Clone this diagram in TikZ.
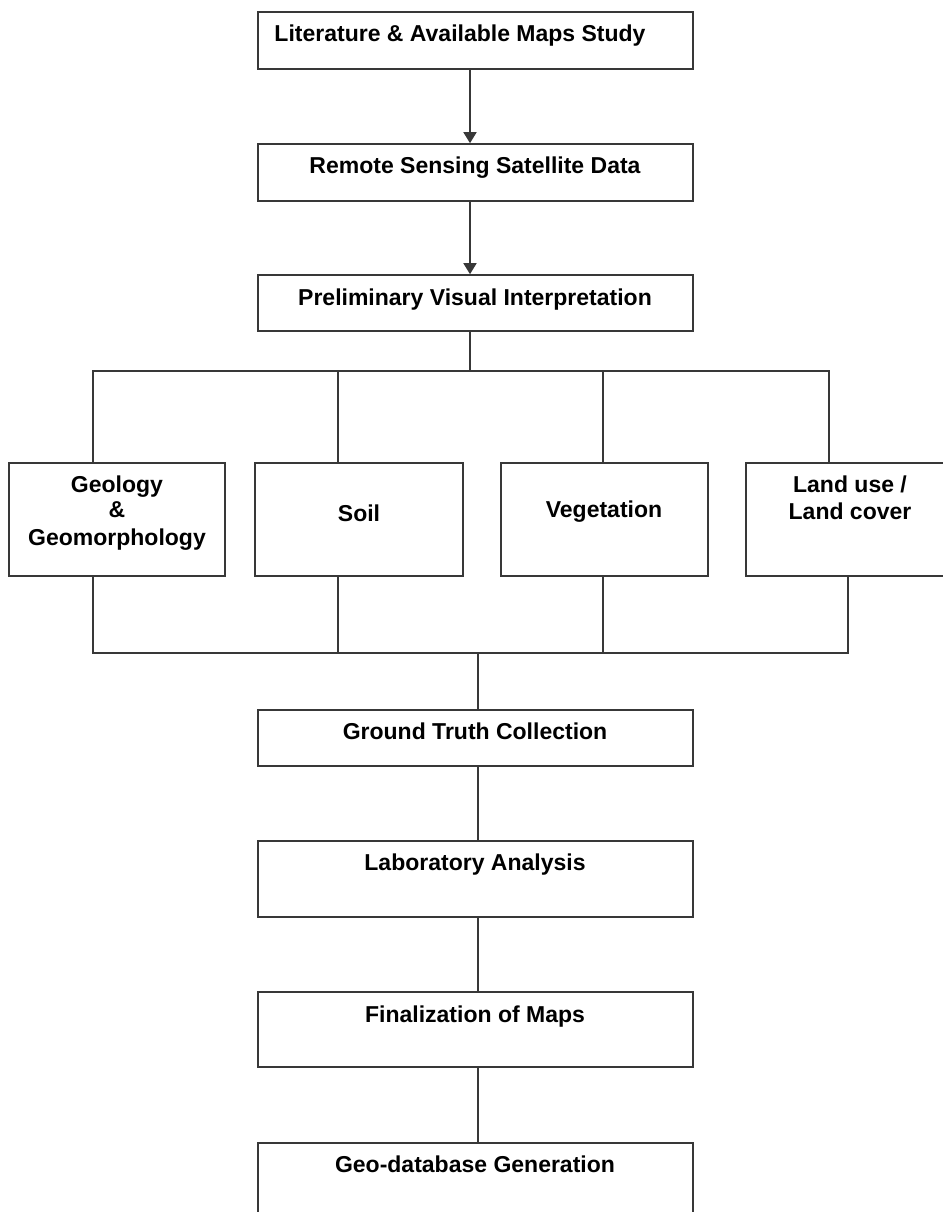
\documentclass[tikz,border=0pt]{standalone}
\usepackage{fontspec}
\setmainfont{Liberation Sans}
\usetikzlibrary{arrows.meta}
\begin{document}
\begin{tikzpicture}[x=1pt,y=-1pt,
  box/.style={draw=black!78,line width=1.6pt,rectangle,inner sep=0pt,minimum width=#1},
  box/.default=435,
  lbl/.style={anchor=base,inner sep=0pt,font=\fontsize{23}{27}\selectfont\bfseries,text=black},
  conn/.style={draw=black!78,line width=1.6pt},
  arr/.style={conn,-{Triangle[width=13pt,length=11pt]}}]
\useasboundingbox (0,0) rectangle (942,1212);
\fill[white] (0,0) rectangle (942,1212);
% main column boxes
\node[box,minimum height=57] (b1) at (475.5,40.5) {};
\node[box,minimum height=57] (b2) at (475.5,172.5) {};
\node[box,minimum height=56] (b3) at (475.5,303) {};
\node[box=216,minimum height=113] (geo) at (117,519.5) {};
\node[box=208,minimum height=113] (soil) at (359,519.5) {};
\node[box=207,minimum height=113] (veg) at (604.5,519.5) {};
\node[box=204,minimum height=113] (land) at (848,519.5) {};
\node[box,minimum height=56] (gtc) at (475.5,738) {};
\node[box,minimum height=76] (lab) at (475.5,879) {};
\node[box,minimum height=75] (fin) at (475.5,1029.5) {};
\node[box,minimum height=87] (gdb) at (475.5,1186.5) {};
% labels
\node[lbl] (t1) at (460,42) {Literature \& Available Maps Study};
\node[lbl] (t2) at (475,173) {Remote Sensing Satellite Data};
\node[lbl] (t3) at (475,305) {Preliminary Visual Interpretation};
\node[lbl] (tg1) at (117,492) {Geology};
\node[lbl] (tg2) at (117,517) {\&};
\node[lbl] (tg3) at (117,545) {Geomorphology};
\node[lbl] (ts) at (359,521) {Soil};
\node[lbl] (tv) at (604,517) {Vegetation};
\node[lbl] (tl1) at (850,492) {Land use /};
\node[lbl] (tl2) at (850,519) {Land cover};
\node[lbl] (tgt) at (475,739) {Ground Truth Collection};
\node[lbl] (tla) at (475,870) {Laboratory Analysis};
\node[lbl] (tfi) at (475,1022) {Finalization of Maps};
\node[lbl] (tgd) at (475,1172) {Geo-database Generation};
% connectors
\draw[arr] ([xshift=-5.5]b1.south) -- ([xshift=-5.5]b2.north);
\draw[arr] ([xshift=-5.5]b2.south) -- ([xshift=-5.5]b3.north);
\coordinate (topbus) at (470,371);
\coordinate (botbus) at (478,653);
\draw[conn] ([xshift=-5.5]b3.south) -- (topbus);
\draw[conn] ([xshift=-24]geo.north) |- ([xshift=-19]land.north |- topbus) -- ([xshift=-19]land.north);
\draw[conn] ([xshift=-21]soil.north) -- ([xshift=-21]soil.north |- topbus);
\draw[conn] ([xshift=-1.5]veg.north) -- ([xshift=-1.5]veg.north |- topbus);
\draw[conn] ([xshift=-24]geo.south) |- (land.south |- botbus) -- (land.south);
\draw[conn] ([xshift=-21]soil.south) -- ([xshift=-21]soil.south |- botbus);
\draw[conn] ([xshift=-1.5]veg.south) -- ([xshift=-1.5]veg.south |- botbus);
\draw[conn] (botbus) -- ([xshift=2.5]gtc.north);
\draw[conn] ([xshift=2.5]gtc.south) -- ([xshift=2.5]lab.north);
\draw[conn] ([xshift=2.5]lab.south) -- ([xshift=2.5]fin.north);
\draw[conn] ([xshift=2.5]fin.south) -- ([xshift=2.5]gdb.north);
\end{tikzpicture}
\end{document}
